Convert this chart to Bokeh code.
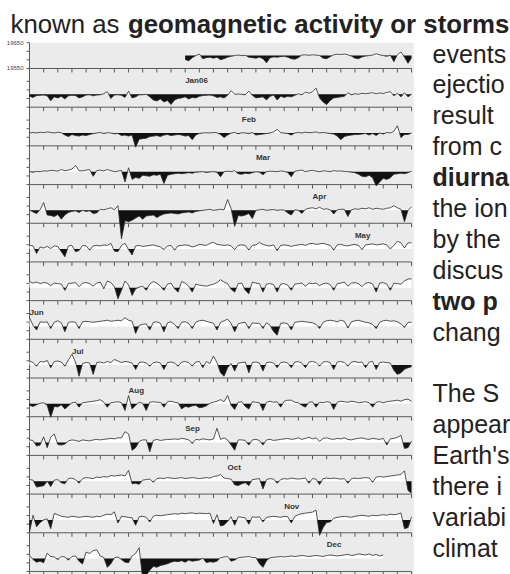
import numpy as np
from datetime import date
from bokeh.plotting import figure
from bokeh.core.properties import value
from bokeh.embed import file_html
from bokeh.resources import INLINE

# ---------------- data ----------------
rotation_origin = date(2005, 11, 24)      # day 0 of the first 27-day strip
data_start = date(2005, 12, 5)            # first sample
samples_per_day = 4
rotation_days = 27
quiet_level = 19600                        # nT, reference (baseline) level
axis_tick_values = [19550, 19650]
axis_tick_labels = ["19550", "19650"]

month_labels = ["Jan06", "Feb", "Mar", "Apr", "May", "Jun",
                "Jul", "Aug", "Sep", "Oct", "Nov", "Dec"]
month_dates = [date(2006, m, 1) for m in range(1, 13)]

# H-component deviation from the quiet level (nT), 6-hourly, one list per rotation
rot01 = [-15, -20, -8, 0, 6, -12, -8, -6, -10, -6, -16, -12, -6, -3, 0, 2, 0, 1, -6, -8,
         -10, -6, -12, -28, -8, -5, -6, -4, -3, -6, -12, -14, -8, 2, 3, 1, 3, 2, 0, -10,
         -12, -4, 3, 5, 4, 6, 3, -2, -10, -12, -5, -2, 0, 2, 7, 3, 0, -3, 2, -24,
         4, 14, -6, -30]
rot02 = [-8, -12, -5, -4, -3, -6, -25, -10, -14, -8,
         -18, -6, -4, -5, -14, -10, -3, -2, -6, -3,
         -2, 2, 10, -16, -3, -2, -4, -12, 12, -14,
         -10, -2, -2, 0, -10, -22, -26, -18, -30, -24,
         -40, -22, -16, -14, -10, -18, -12, -14, -8, -5,
         -4, -3, -6, -12, -10, -14, -4, 14, 0, 1,
         0, -2, 12, -4, -14, -12, -10, -22, -8, -3,
         -22, -8, -12, -8, -10, -4, 2, -2, 8, 4,
         10, 24, -14, -30, -40, -24, -14, -12, -10, -8,
         6, -2, 2, 0, 4, 2, 4, 6, 2, 5,
         3, 7, 10, -6, 4, -10, 6, -10]
rot03 = [0, 2, 0, 3, 1, 4, 2, 0, 3, 1,
         -8, -14, -6, -10, -12, -8, -10, -6, -2, 0,
         2, -2, 1, 0, -3, -2, -10, -8, -12, -8,
         -55, -24, -22, -20, -14, -12, -10, -14, -8, -6,
         -10, -8, -6, -8, -12, -10, -26, -8, -2, 0,
         1, 0, 2, 1, -6, -18, -8, 0, 2, -3,
         1, 0, -2, 2, -8, -6, -4, -2, 0, 4,
         14, 1, 0, -2, -8, 0, 2, 0, 3, 1,
         2, 4, 0, 2, 0, -2, -4, -12, -26, -14,
         -10, -8, -6, -6, -4, -2, -8, -2, -10, 0,
         -4, 2, 0, 6, 28, -18, -6, -6]
rot04 = [0, -2, 1, 0, 3, 2, 5, 4, 2, 8,
         4, 6, 10, 24, 4, 3, 6, 8, -18, 4,
         6, 3, 8, 4, 0, 2, 5, -40, 15, -30,
         -22, -26, -14, -16, -18, -12, -14, -10, -46, -14,
         -10, -8, -6, -8, -6, -4, -6, -2, -1, 0,
         -3, -1, 0, -2, -20, 0, 2, 0, 4, -8,
         -10, -6, -8, -4, 0, -2, -12, 0, 2, 1,
         0, 3, 1, -3, -20, 2, 4, 6, 0, 3,
         5, 2, 0, 3, 2, 0, 4, 2, 3, 1,
         0, -2, -4, -10, -18, -20, -14, -24, -55, -40,
         -26, -30, -24, -10, -8, -6, -8, -4]
rot05 = [2, -6, -12, 2, 30, -18, -20, -24, -16, -34,
         -18, -8, -4, -2, -8, 0, -4, -2, -12, -10,
         4, 2, 6, 10, 2, 18, -110, -40, -44, -38,
         -30, -22, -34, -22, -20, -18, -28, -20, -14, -12,
         -10, -12, -14, -10, -8, -6, -10, -4, -2, 0,
         2, 4, 0, 2, 4, 2, 42, 6, -62, -20,
         -22, -18, -12, -32, 0, 2, 4, 0, 2, 3,
         0, 2, 1, -10, -18, 2, 0, -12, 4, 8,
         10, 6, 12, 4, 6, 2, -14, 2, 4, 4,
         -24, 2, 6, 4, 8, 6, 10, 4, 8, 6,
         4, 8, 10, 18, 10, 4, -44, 0]
rot06 = [14, 12, -17, 8, 4, 10, 2, 12, 10, -10,
         -30, 12, 14, -10, -6, 14, 12, -4, 12, 14,
         12, 16, 14, 22, -8, -10, 14, 22, -2, -23,
         12, 14, 10, 12, 14, 16, 12, 8, -2, 12,
         14, -4, 12, 14, 16, 14, 8, 12, 18, 16,
         14, 22, 26, 18, 16, 14, 16, 12, -2, 14,
         16, 14, -4, 14, 16, 26, 18, 14, 12, 16,
         -6, 14, 16, 14, 10, 14, 16, 18, 14, 20,
         22, 18, 20, 22, 18, 14, -4, 16, 18, 14,
         12, 16, 18, 14, -2, 16, 18, 20, 16, 18,
         20, 16, 0, 14, 30, 24, 4, 24]
rot07 = [24, 18, 22, 16, 20, 18, 8, 18, 16, 14,
         -10, 16, 18, 20, 4, 18, 20, 16, 6, 18,
         22, -4, 26, 20, 4, -43, -10, 26, 10, -30,
         -4, 2, 6, -10, 14, 24, 18, 6, -10, 14,
         18, -4, -17, 24, 18, 6, -17, 14, 10, 8,
         6, 10, 14, 20, 31, 22, 16, -6, -17, 16,
         18, -10, -23, 22, 18, 16, -17, 14, 16, 12,
         -17, 14, 16, 10, -10, 14, 16, 18, 6, 18,
         16, 18, 8, 16, 18, 12, -10, 16, 18, 22,
         6, 18, 20, 16, 4, 18, 20, 14, -17, 18,
         20, 14, -10, 18, 16, 14, 26, 34]
rot08 = [34, 4, -14, 18, 16, 18, -8, 16, 22, 14,
         -21, 16, 18, 16, -8, 18, 20, 18, 16, 18,
         20, 22, 24, 20, 22, 24, 22, 34, 24, 20,
         -27, 4, 8, 10, -14, 16, 18, 12, -21, 14,
         18, 8, -8, 16, 18, 12, -8, 16, 22, 24,
         20, 16, 12, -14, 16, 22, 28, 12, -21, 10,
         14, 16, -8, 14, 12, 12, -8, 14, 4, -20,
         -34, 12, 14, 10, -14, 16, 18, 20, 18, 16,
         14, 8, -8, 16, 22, 24, 22, 18, 24, 20,
         -6, 18, 22, 24, 20, 16, 14, 8, -8, 16,
         22, 24, 20, 22, 18, 10, -4, 16]
rot09 = [16, 10, -4, 14, 12, 18, -10, 14, 16, 12,
         -4, 20, 42, 12, -43, 6, 10, 8, -36, 10,
         12, 8, 14, 10, 22, 16, 10, 14, 12, 8,
         -17, 10, 12, 8, -4, 10, 12, 8, -17, 10,
         12, 8, -4, 12, 14, 10, -4, 12, 14, -10,
         14, 6, 35, 10, -30, -43, -10, 6, -23, 8,
         10, 12, -30, 10, 12, 8, -23, 10, 12, 8,
         -10, 10, 12, 8, -10, 12, 14, 8, -10, 12,
         14, 10, -4, 12, 14, 10, -17, 12, 14, 10,
         -4, 12, 14, 10, 12, -10, 12, 14, -17, 10,
         12, 10, 8, -20, -36, -30, -16, -10]
rot10 = [-6, -10, -4, 2, 4, -6, -52, -10, -12, -4,
         -20, -8, 4, 6, -13, 4, 6, 8, 10, 12,
         16, 6, -13, 4, 6, 8, 4, -26, 32, -20,
         -6, 6, 2, -26, 6, 8, 6, 6, -13, 8,
         10, 6, 4, -20, -10, -13, -8, -6, -15, -13,
         -8, 2, 6, 10, 16, 8, 32, -6, -22, 6,
         8, -10, -20, 8, 6, 4, -26, 6, 10, 6,
         8, -13, 10, 14, 14, 6, 4, -6, -13, 6,
         8, -13, 6, 4, 8, 6, -22, 6, 10, 8,
         6, 10, 8, 4, 6, 8, 4, -13, 6, 8,
         4, 8, 10, 12, 14, 10, 16, 18]
rot11 = [10, 8, -14, -10, 22, -20, 20, 33, -8, -10,
         -6, 6, 10, 8, 4, 10, 8, 6, 10, 12,
         10, 12, 14, 16, 14, 18, 18, 42, 33, -30,
         -20, 4, 10, 10, -36, 8, 12, 8, 10, 12,
         12, 14, 12, 16, 14, 10, -4, 12, 10, 14,
         12, 10, 14, 55, 12, 18, 10, -10, -30, 10,
         10, 8, -10, 10, 12, 8, -10, 10, 12, 8,
         10, 12, 14, 16, 12, 14, 18, 12, 16, 20,
         14, 18, 4, 16, 18, 14, 12, 16, 14, 18,
         12, 10, 14, 16, 18, 14, 12, 16, 14, 12,
         16, -10, 14, 16, 20, 28, -23, -20]
rot12 = [6, 4, -23, -20, -18, 0, -21, 4, 6, -6,
         -10, 10, 12, 6, -8, 10, 14, 12, 10, 16,
         14, 18, 16, 22, 20, 22, 24, 20, 42, -10,
         -8, -12, 4, 6, 8, -4, 10, 12, 10, 14,
         12, 10, 12, 14, 10, 12, 14, 12, 10, 12,
         14, 12, 18, 20, 26, 12, 10, 8, -14, -17,
         -10, -6, -17, 6, 8, 10, -30, 6, 10, 8,
         -8, 6, 10, 8, 12, 10, 8, 10, 12, -8,
         10, 8, -13, 10, 12, 10, 12, 10, 8, 10,
         -8, 10, 12, 10, 12, 14, 12, -4, 16, 18,
         16, 18, 20, 22, 24, 26, 40, -36]
rot13 = [-47, 18, -27, -10, 0, 4, -34, 25, 20, 14,
         12, 10, 14, 12, 10, 12, 14, 12, 10, 14,
         12, 18, 22, 20, 31, -12, 14, 12, 10, 8,
         -21, 12, 14, 10, -8, 14, 18, 16, 18, 20,
         22, 24, 22, 26, 24, 26, 27, 24, 26, 25,
         24, 26, -14, 20, -24, -20, -6, 12, -21, 12,
         10, 8, -17, 12, 10, 12, -8, 10, 12, 14,
         12, 10, 14, 12, -12, 14, 20, 24, 26, 28,
         30, 38, -60, -30, -10, -8, 6, 10, 12, 14,
         12, 10, 14, 16, 18, 16, 14, 18, 16, 18,
         20, 18, 22, 20, 22, 27, -34, -30]
rot14 = [12, -4, -14, -10, -16, 21, 8, 6, -4, 8,
         6, -6, 8, 10, -10, -21, 25, 20, 31, 34,
         10, 4, -34, -20, 3, 6, -4, -14, -16, 10,
         20, 42, -80, -65, -45, -30, -34, -27, -24, -20,
         -14, -10, -12, -8, -14, -6, -10, -8, -6, 2,
         -16, -12, -14, -10, 3, 6, 8, -10, -6, 3,
         5, 6, 8, 4, 4, -20, -34, -8, 3, 5,
         6, 8, 6, 8, 10, 8, 10, 12, 10, 8,
         10, 12, 10, 8, 12, 14, 12, 10, 12, 14,
         16, 12, 14, 18, 16, 14, 18, 12, 16, 10,
         14]
rotations = [rot01, rot02, rot03, rot04, rot05, rot06, rot07,
             rot08, rot09, rot10, rot11, rot12, rot13, rot14]

header_regular = "known as "
header_bold = "geomagnetic activity or storms"
side_lines = ["events", "ejectio", "result", "from c", "diurna",
              "the ion", "by the", "discus", "two p", "chang",
              "", "The S", "appear", "Earth's", "there i", "variabi", "climat"]
side_bold = [False, False, False, False, True, False, False, False, True, False,
             False, False, False, False, False, False, False]

# ---------------- layout ----------------
W, H = 510, 574
KX = 14.15                 # px per day
STRIP_STEP = 150           # nT between stacked strips
KY = 38.69 / STRIP_STEP    # px per nT
X0 = -29 / KX
Y1 = axis_tick_values[1] + 42.2 / KY


def xd(px):   # page pixel -> data x
    return X0 + px / KX


def yd(py):   # page pixel -> data y
    return Y1 - py / KY


p = figure(width=W, height=H, x_range=(X0, X0 + W / KX), y_range=(Y1 - H / KY, Y1),
           output_backend="svg", toolbar_location=None, min_border=0, title=None,
           x_axis_location=None, y_axis_location=None)
p.outline_line_color = None
p.grid.visible = False
p.background_fill_color = "white"
p.border_fill_color = "white"

FONT = value("Liberation Sans")
n_strips = len(rotations)
axis_levels = np.array([axis_tick_values[0] - i * STRIP_STEP for i in range(n_strips)], float)

# panel background
p.quad(left=[0], right=[rotation_days + 0.15], top=[axis_tick_values[1]], bottom=[yd(600)],
       fill_color="#ebebeb", line_color=None)

# strip axes and ticks
axis_col = "#5a5a5a"
p.segment(x0=np.zeros(n_strips), y0=axis_levels, x1=np.full(n_strips, rotation_days),
          y1=axis_levels, line_color=axis_col, line_width=1)
tick_days = np.arange(rotation_days + 1)
tx = np.tile(tick_days, n_strips).astype(float)
ty = np.repeat(axis_levels, len(tick_days))
p.segment(x0=tx, y0=ty, x1=tx, y1=ty - 4 / KY, line_color=axis_col, line_width=1)
p.segment(x0=[0], y0=[axis_tick_values[1]], x1=[0], y1=[yd(580)], line_color=axis_col, line_width=1)
span = axis_tick_values[1] - axis_tick_values[0]
ly = (axis_levels[:, None] + np.array([0, span / 3, 2 * span / 3, span])[None, :]).ravel()
p.segment(x0=np.zeros(len(ly)), y0=ly, x1=np.full(len(ly), -3 / KX), y1=ly,
          line_color=axis_col, line_width=1)
p.text(x=[xd(23)] * 2, y=axis_tick_values, text=axis_tick_labels, text_font=FONT,
       text_font_size="6px", text_color="#444", text_align="right", text_baseline="middle")

# data strips
dH = np.concatenate([np.asarray(r, float) for r in rotations])
t = (data_start - rotation_origin).days + np.arange(len(dH)) / samples_per_day


def with_crossings(x, v):
    xs, vs = [x[0]], [v[0]]
    for j in range(1, len(x)):
        a, b = v[j - 1], v[j]
        if a * b < 0:
            f = a / (a - b)
            xs.append(x[j - 1] + f * (x[j] - x[j - 1]))
            vs.append(0.0)
        xs.append(x[j])
        vs.append(b)
    return np.array(xs), np.array(vs)


for i in range(n_strips):
    m = (t >= i * rotation_days - 1e-9) & (t <= (i + 1) * rotation_days + 1e-9)
    if not m.any():
        continue
    x = t[m] - i * rotation_days
    v = dH[m]
    base = quiet_level - i * STRIP_STEP
    xs, vs = with_crossings(x, v)
    bl = np.full(len(xs), base)
    p.varea(x=xs, y1=bl, y2=bl + np.maximum(vs, 0), fill_color="white")
    p.varea(x=xs, y1=bl + np.minimum(vs, 0), y2=bl, fill_color="#111111")
    p.line(x=x, y=base + v, line_color="#2a2a2a", line_width=0.8)

# month labels
mx, my = [], []
for d in month_dates:
    k = (d - rotation_origin).days
    s = k // rotation_days
    mx.append(k - s * rotation_days)
    my.append(axis_levels[s - 1] - 12 / KY)
p.text(x=mx, y=my, text=month_labels, text_font=FONT, text_font_size="8px",
       text_font_style="bold", text_color="#333", text_align="left", text_baseline="middle")

# surrounding page text
p.text(x=[xd(10)], y=[yd(23)], text=[header_regular], text_font=FONT, text_font_size="25.8px",
       text_color="#222", text_align="left", text_baseline="alphabetic")
p.text(x=[xd(127.5)], y=[yd(23)], text=[header_bold], text_font=FONT, text_font_size="25.8px",
       text_font_style="bold", text_color="#222", text_align="left", text_baseline="alphabetic")

for bold in (False, True):
    sx, sy, st = [], [], []
    for n, (line, b) in enumerate(zip(side_lines, side_bold)):
        if line and b == bold:
            sx.append(xd(432))
            sy.append(yd(53 + 30.9 * n))
            st.append(line)
    p.text(x=sx, y=sy, text=st, text_font=FONT, text_font_size="25px",
           text_font_style="bold" if bold else "normal", text_color="#222",
           text_align="left", text_baseline="alphabetic")

open("out.html", "w").write(file_html(p, INLINE))
